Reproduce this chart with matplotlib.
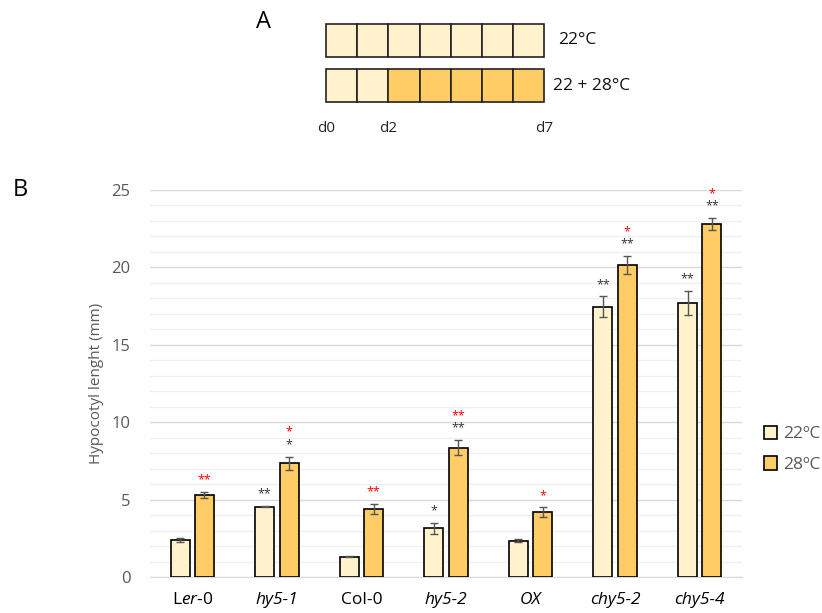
import matplotlib
matplotlib.use("Agg")
import numpy as np
import matplotlib.pyplot as plt
from matplotlib.patches import Rectangle

plt.rcParams["font.family"] = ["Open Sans", "DejaVu Sans"]
plt.rcParams["mathtext.fontset"] = "custom"
plt.rcParams["mathtext.it"] = "Open Sans:italic"
plt.rcParams["mathtext.rm"] = "Open Sans"

# ─── DATA ────────────────────────────────────────────────────────────────────
lines     = [r"L$\mathit{er}$-0", "hy5-1", "Col-0", "hy5-2", "OX", "chy5-2", "chy5-4"]
italic    = [False, True, False, True, True, True, True]
mean_22   = [2.4, 4.55, 1.3, 3.15, 2.35, 17.45, 17.7]
err_22    = [0.12, 0.05, 0.04, 0.34, 0.12, 0.68, 0.8]
mean_28   = [5.3, 7.35, 4.4, 8.35, 4.2, 20.15, 22.8]
err_28    = [0.18, 0.43, 0.34, 0.5, 0.3, 0.6, 0.4]
# significance vs wild type (black) and 22 vs 28 ºC (red)
sig_22    = ["", "**", "", "*", "", "**", "**"]
sig_28    = ["", "*", "", "**", "", "**", "**"]
sig_temp  = ["**", "*", "**", "**", "*", "*", "*"]

# growth scheme: temperature for each day, d0..d7
scheme_rows   = ["22°C", "22 + 28°C"]
scheme_temps  = [[22] * 7, [22, 22, 28, 28, 28, 28, 28]]
scheme_ticks  = [("d0", 0), ("d2", 2), ("d7", 7)]

C22 = "#FFF2CC"
C28 = "#FFCC66"
# ─────────────────────────────────────────────────────────────────────────────

fig = plt.figure(figsize=(8.22, 6.13), dpi=100)

# panel A: schematic drawn in pixel space
over = fig.add_axes([0, 0, 1, 1])
over.set_xlim(0, 822)
over.set_ylim(613, 0)
over.axis("off")

x0, cell = 326, 31.2
row_y = [24, 69]
row_h = 33
for r, temps in enumerate(scheme_temps):
    for d, t in enumerate(temps):
        over.add_patch(Rectangle((x0 + d * cell, row_y[r]), cell, row_h,
                                 facecolor=C22 if t == 22 else C28,
                                 edgecolor="#222222", lw=1.2))
    over.text(x0 + 7 * cell + (14 if r == 0 else 9), row_y[r] + row_h / 2,
              scheme_rows[r], fontsize=12.5, va="center", ha="left",
              color="#111111")
for lab, d in scheme_ticks:
    over.text(x0 + d * cell, 128, lab, fontsize=11, ha="center",
              va="center", color="#222222")

over.text(263, 22, "A", fontsize=17, ha="center", va="center")
over.text(20, 190, "B", fontsize=17, ha="center", va="center")

# panel B: bar chart
ax = fig.add_axes([150 / 822, 36 / 613, 592 / 822, 387 / 613])
x = np.arange(len(lines))
w, off = 0.225, 0.144

ax.bar(x - off, mean_22, w, color=C22, edgecolor="black", lw=1.2,
       label="22ºC", zorder=3)
ax.bar(x + off, mean_28, w, color=C28, edgecolor="black", lw=1.2,
       label="28ºC", zorder=3)
ax.errorbar(x - off, mean_22, yerr=err_22, fmt="none", ecolor="#555555",
            elinewidth=1, capsize=3, capthick=1, zorder=4)
ax.errorbar(x + off, mean_28, yerr=err_28, fmt="none", ecolor="#555555",
            elinewidth=1, capsize=3, capthick=1, zorder=4)

for i in range(len(lines)):
    top22 = mean_22[i] + err_22[i]
    top28 = mean_28[i] + err_28[i]
    if sig_22[i]:
        ax.text(x[i] - off, top22 + 0.35, sig_22[i], ha="center",
                va="bottom", fontsize=9, color="#333333")
    y28 = top28 + 0.35
    if sig_28[i]:
        ax.text(x[i] + off, y28, sig_28[i], ha="center", va="bottom",
                fontsize=9, color="#333333")
        y28 += 0.8
    if sig_temp[i]:
        ax.text(x[i] + off, y28, sig_temp[i], ha="center", va="bottom",
                fontsize=9, color="red")

ax.set_xlim(-0.5, len(lines) - 0.5)
ax.set_ylim(0, 25)
ax.set_yticks(np.arange(0, 26, 5))
ax.set_yticks(np.arange(0, 26, 1), minor=True)
ax.grid(axis="y", which="major", color="#D9D9D9", lw=1, zorder=0)
ax.grid(axis="y", which="minor", color="#F0F0F0", lw=1, zorder=0)
ax.tick_params(axis="y", which="both", length=0, labelsize=12,
               labelcolor="#595959", pad=14)
ax.tick_params(axis="x", length=0, labelsize=12.5, pad=11)
ax.set_xticks(x)
ax.set_xticklabels(lines)
for lab, it in zip(ax.get_xticklabels(), italic):
    if it:
        lab.set_style("italic")
for s in ["top", "right", "left"]:
    ax.spines[s].set_visible(False)
ax.spines["bottom"].set_color("#D9D9D9")
ax.set_ylabel("Hypocotyl lenght (mm)", fontsize=11, color="#595959",
              labelpad=5)

ax.legend(loc="center left", bbox_to_anchor=(1.01, 0.33), frameon=False,
          fontsize=12.5, handlelength=0.8, handleheight=0.8,
          handletextpad=0.3, labelspacing=0.8, labelcolor="#595959")

fig.savefig("out.png", dpi=100)
